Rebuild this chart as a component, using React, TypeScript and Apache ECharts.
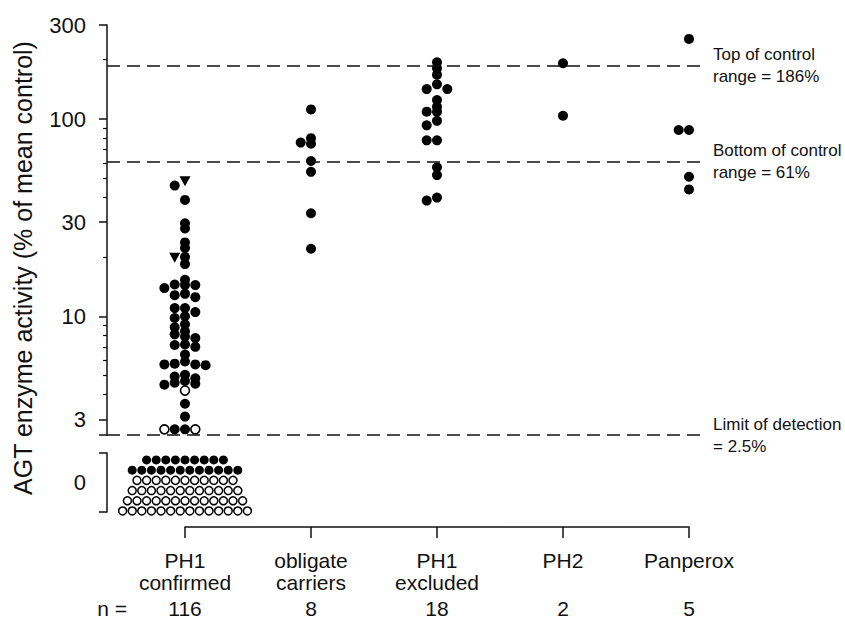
import React, { useEffect, useRef } from "react";
import * as echarts from "echarts";

// ---------- data ----------
const categories = ["PH1\nconfirmed", "obligate\ncarriers", "PH1\nexcluded", "PH2", "Panperox"];
const nValues = ["116", "8", "18", "2", "5"];
const yTickLabels = [3, 10, 30, 100, 300];
const yMajorTicks = [2.5, 3, 10, 30, 100, 300];
const yMinorTicks = [4, 5, 6, 7, 8, 9, 20, 40, 50, 60, 70, 80, 90, 200];

// AGT activity (% of mean control)
const ph1Filled = [
  46, 38.9, 29.6, 27.9, 23.7, 22.2, 20, 18.4, 15.3, 14.5, 14.4, 14.4, 13.9, 13.0, 12.8, 12.5,
  11.0, 11.0, 10.5, 10.0, 9.8, 9.1, 8.8, 8.4, 8.1, 7.9, 7.75, 7.2, 7.15, 7.0, 6.4, 5.9, 5.75,
  5.7, 5.7, 5.65, 5.05, 4.95, 4.85, 4.7, 4.6, 4.55, 4.5, 3.6, 3.1, 2.67, 2.67,
];
const ph1Open = [4.2, 2.67, 2.67];
const ph1Triangles = [48.4, 19.8];
const carriers = [112, 80, 75, 76, 61.3, 54, 33.3, 22];
const excluded = [194, 181, 168, 142, 142, 150, 125, 115.5, 109, 109, 98, 93, 78, 78, 57, 52, 40, 38.6];
const ph2 = [192, 104];
const panperox = [255, 88, 88, 51, 44];

// PH1 confirmed patients with no detectable activity (0), counts per row from bottom
const zeroOpenRows = [14, 13, 12, 11];
const zeroFilledRows = [12, 9];

const controlTop = 186;
const controlBottom = 61;
const detectionLimit = 2.5;

// ---------- layout constants ----------
const FONT = "'Liberation Sans', Arial, Helvetica, sans-serif";
const INK = "#111";
const GRID_L = 107;
const GRID_W = 598;
const CAT0 = 185;
const CAT_STEP = 126;
const X_MIN = (GRID_L - CAT0) / CAT_STEP;
const X_MAX = (GRID_L + GRID_W - CAT0) / CAT_STEP;
const SLOT = 10.3 / CAT_STEP; // horizontal slot width (category units)
const ZERO_SLOT = 9.6 / CAT_STEP;
const SEP = 0.0245; // log10 separation for sharing a slot

type Pt = { v: number; kind: string };

function swarm(items: Pt[], cat: number) {
  const sorted = items.slice().sort((a, b) => b.v - a.v);
  const placed: { slot: number; lv: number }[] = [];
  const order = [0, -1, 1, -2, 2, -3, 3, -4, 4];
  return sorted.map((d) => {
    const lv = Math.log10(d.v);
    let slot = 0;
    for (const s of order) {
      if (!placed.some((p) => p.slot === s && Math.abs(p.lv - lv) < SEP)) {
        slot = s;
        break;
      }
    }
    placed.push({ slot, lv });
    return { kind: d.kind, value: [cat + slot * SLOT, d.v] };
  });
}

function zeroRows(counts: number[], rowStart: number) {
  const out: number[][] = [];
  counts.forEach((n, r) => {
    for (let j = 0; j < n; j++) out.push([(j - (n - 1) / 2) * ZERO_SLOT, rowStart + r]);
  });
  return out;
}

export default function App() {
  const ref = useRef<HTMLDivElement>(null);
  useEffect(() => {
    document.body.style.margin = "0";
    const chart = echarts.init(ref.current!, undefined, { renderer: "svg" });

    const ph1 = swarm(
      [
        ...ph1Filled.map((v) => ({ v, kind: "f" })),
        ...ph1Open.map((v) => ({ v, kind: "o" })),
        ...ph1Triangles.map((v) => ({ v, kind: "t" })),
      ],
      0
    );
    const others = [
      ...swarm(carriers.map((v) => ({ v, kind: "f" })), 1),
      ...swarm(excluded.map((v) => ({ v, kind: "f" })), 2),
      ...swarm(ph2.map((v) => ({ v, kind: "f" })), 3),
      ...swarm(panperox.map((v) => ({ v, kind: "f" })), 4),
    ];
    const filled = [...ph1, ...others].filter((d) => d.kind === "f").map((d) => d.value);
    const open = ph1.filter((d) => d.kind === "o").map((d) => d.value);
    const tri = ph1.filter((d) => d.kind === "t").map((d) => d.value);

    const lineLabel = {
      show: true,
      position: "end",
      distance: 8,
      fontFamily: FONT,
      fontSize: 17,
      lineHeight: 22,
      color: INK,
      align: "left",
    };

    const axisLineStyle = { color: INK, width: 1.5 };

    const option: any = {
      animation: false,
      backgroundColor: "#fff",
      grid: [
        { left: GRID_L, top: 25, width: GRID_W, height: 410 },
        { left: GRID_L, top: 453, width: GRID_W, height: 59 },
        { left: CAT0, top: 500, width: CAT_STEP * 4, height: 27 },
      ],
      xAxis: [
        { type: "value", gridIndex: 0, min: X_MIN, max: X_MAX, show: false },
        { type: "value", gridIndex: 1, min: X_MIN, max: X_MAX, show: false },
        {
          type: "category",
          gridIndex: 2,
          position: "bottom",
          data: categories,
          boundaryGap: false,
          axisLine: { show: true, onZero: false, lineStyle: axisLineStyle },
          axisTick: { show: true, inside: false, length: 11, lineStyle: axisLineStyle },
          axisLabel: {
            interval: 0,
            margin: 22,
            fontFamily: FONT,
            fontSize: 21,
            lineHeight: 22,
            color: INK,
          },
        },
        {
          type: "category",
          gridIndex: 2,
          position: "bottom",
          offset: 70,
          data: nValues,
          boundaryGap: false,
          axisLine: { show: false, onZero: false },
          axisTick: { show: false },
          axisLabel: { interval: 0, margin: 1, fontFamily: FONT, fontSize: 21, color: INK },
          name: "n =",
          nameLocation: "start",
          nameGap: 58,
          nameTextStyle: { fontFamily: FONT, fontSize: 21, color: INK, verticalAlign: "top", padding: [1, 0, 0, 0] },
        },
      ],
      yAxis: [
        {
          type: "log",
          logBase: 10,
          gridIndex: 0,
          position: "left",
          min: 2.5,
          max: 300,
          axisLine: { show: true, onZero: false, lineStyle: axisLineStyle },
          axisTick: { show: true, inside: false, length: 8, customValues: yMajorTicks, lineStyle: axisLineStyle },
          axisLabel: { customValues: yTickLabels, margin: 21, fontFamily: FONT, fontSize: 22, color: INK },
          splitLine: { show: false },
          minorTick: { show: false },
        },
        {
          type: "log",
          logBase: 10,
          gridIndex: 0,
          position: "left",
          offset: 0,
          min: 2.5,
          max: 300,
          axisLine: { show: false, onZero: false },
          axisTick: { show: true, inside: false, length: 4, customValues: yMinorTicks, lineStyle: { color: INK, width: 1.2 } },
          axisLabel: { show: false },
          splitLine: { show: false },
        },
        {
          type: "category",
          gridIndex: 1,
          position: "left",
          data: ["0"],
          axisLine: { show: true, onZero: false, lineStyle: axisLineStyle },
          axisTick: { show: true, inside: false, length: 8, alignWithLabel: false, interval: 0, lineStyle: axisLineStyle },
          axisLabel: { margin: 21, fontFamily: FONT, fontSize: 22, color: INK },
          splitLine: { show: false },
        },
        { type: "value", gridIndex: 1, position: "left", min: -0.1, max: 5.68, show: false, axisLine: { onZero: false } },
        { type: "value", gridIndex: 2, position: "left", show: false, min: 0, max: 1, axisLine: { onZero: false } },
      ],
      series: [
        {
          type: "scatter",
          xAxisIndex: 0,
          yAxisIndex: 0,
          data: [],
          z: 1,
          silent: true,
          markLine: {
            silent: true,
            symbol: ["none", "none"],
            lineStyle: { color: INK, width: 1.6, type: [13, 7] },
            label: lineLabel,
            data: [
              { yAxis: controlTop, label: { ...lineLabel, formatter: "Top of control\nrange = 186%" } },
              { yAxis: controlBottom, label: { ...lineLabel, formatter: "Bottom of control\nrange = 61%" } },
              { yAxis: detectionLimit, label: { ...lineLabel, formatter: "Limit of detection\n= 2.5%" } },
            ],
          },
        },
        {
          type: "scatter",
          xAxisIndex: 0,
          yAxisIndex: 0,
          z: 3,
          symbol: "circle",
          symbolSize: 10,
          itemStyle: { color: "#000", opacity: 1 },
          data: filled,
        },
        {
          type: "scatter",
          xAxisIndex: 0,
          yAxisIndex: 0,
          z: 3,
          symbol: "circle",
          symbolSize: 9,
          itemStyle: { color: "#fff", borderColor: "#000", borderWidth: 1.6, opacity: 1 },
          data: open,
        },
        {
          type: "scatter",
          xAxisIndex: 0,
          yAxisIndex: 0,
          z: 3,
          symbol: "triangle",
          symbolRotate: 180,
          symbolSize: [11, 10],
          itemStyle: { color: "#000", opacity: 1 },
          data: tri,
        },
        {
          type: "scatter",
          xAxisIndex: 1,
          yAxisIndex: 3,
          z: 3,
          symbol: "circle",
          symbolSize: 9,
          itemStyle: { color: "#000", opacity: 1 },
          data: zeroRows(zeroFilledRows, zeroOpenRows.length),
        },
        {
          type: "scatter",
          xAxisIndex: 1,
          yAxisIndex: 3,
          z: 3,
          symbol: "circle",
          symbolSize: 8,
          itemStyle: { color: "#fff", borderColor: "#000", borderWidth: 1.5, opacity: 1 },
          data: zeroRows(zeroOpenRows, 0),
        },
      ],
      graphic: [
        {
          type: "text",
          x: 23,
          y: 268,
          rotation: Math.PI / 2,
          style: {
            text: "AGT enzyme activity (% of mean control)",
            fontFamily: FONT,
            fontSize: 25,
            fill: INK,
            align: "center",
            verticalAlign: "middle",
            textAlign: "center",
            textVerticalAlign: "middle",
          },
        },
      ],
    };
    chart.setOption(option);
    return () => chart.dispose();
  }, []);
  return <div ref={ref} style={{ width: 845, height: 621 }} />;
}
